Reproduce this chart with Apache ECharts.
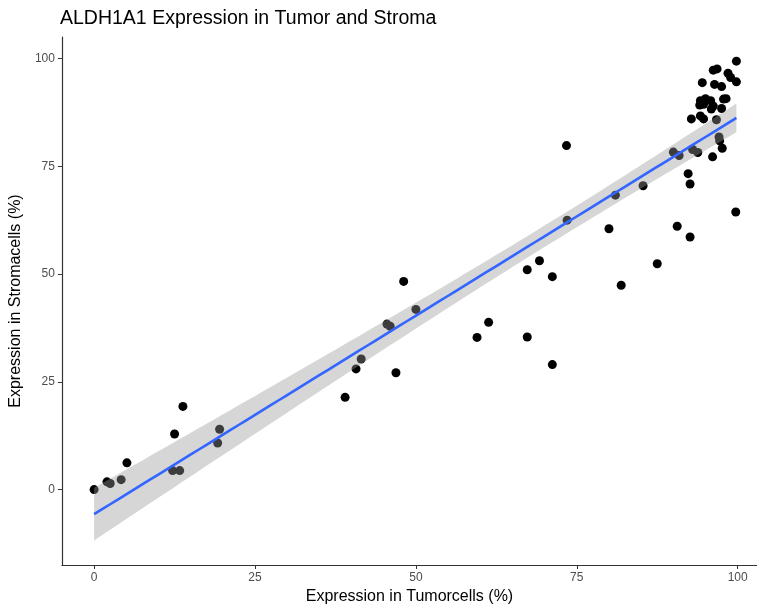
<!DOCTYPE html>
<html>
<head>
<meta charset="utf-8">
<script src="https://cdn.jsdelivr.net/npm/echarts@6/dist/echarts.min.js"></script>
<style>
html,body{margin:0;padding:0;background:#fff;}
#chart{width:757px;height:610px;}
</style>
</head>
<body>
<div id="chart"></div>
<script>
// Data
const tumor = [0,2,2.5,4.2,5.1,12.5,12.2,13.3,13.8,19.2,19.5,39,40.7,41.5,45.5,46,46.9,48.1,50,59.5,61.3,67.3,67.3,69.2,71.2,71.2,73.4,73.5,80,81,81.9,85.3,87.5,90,90.9,90.6,92.3,92.6,92.6,99.7,93.0,93.8,96.1,97.1,97.2,97.6,92.8,94.2,94.7,96.7,94.1,94.7,95.9,96.2,97.5,94.2,95.0,95.8,97.8,98.2,94.5,96.4,97.5,99.8,98.5,98.9,96.2,96.8,99.8];
const stroma = [0,1.8,1.4,2.3,6.2,12.9,4.4,4.4,19.3,10.8,14.0,21.4,28.0,30.3,38.4,37.9,27.1,48.3,41.8,35.3,38.8,51.0,35.4,53.1,49.4,29.0,79.8,62.5,60.5,68.3,47.4,70.5,52.4,78.3,77.5,61.1,73.3,70.9,58.6,64.4,78.9,78.2,77.2,81.8,80.9,79.2,86.0,86.7,86.0,85.8,89.2,89.4,88.3,89.0,88.4,90.2,90.7,90.2,90.6,90.7,94.4,94.0,93.5,94.6,96.6,95.6,97.3,97.6,99.4];
const tickValues = [0,25,50,75,100];
const titleText = 'ALDH1A1 Expression in Tumor and Stroma';
const xName = 'Expression in Tumorcells (%)';
const yName = 'Expression in Stromacells (%)';

// Linear fit with 95% confidence band (as geom_smooth(method = "lm"))
const n = tumor.length;
const mx = tumor.reduce((a,b)=>a+b,0)/n;
const my = stroma.reduce((a,b)=>a+b,0)/n;
let sxx=0, sxy=0;
for(let i=0;i<n;i++){ sxx += (tumor[i]-mx)**2; sxy += (tumor[i]-mx)*(stroma[i]-my); }
const slope = sxy/sxx, icpt = my - slope*mx;
let sse=0;
for(let i=0;i<n;i++){ const r = stroma[i]-(icpt+slope*tumor[i]); sse += r*r; }
const sRes = Math.sqrt(sse/(n-2));
const tCrit = 1.996;
const xMin = Math.min(...tumor), xMax = Math.max(...tumor);
const fitLine = [], bandUpper = [], bandLower = [];
for(let k=0;k<=80;k++){
  const x = xMin + (xMax-xMin)*k/80;
  const y = icpt + slope*x;
  const se = sRes*Math.sqrt(1/n + (x-mx)**2/sxx);
  fitLine.push([x,y]);
  bandUpper.push([x,y+tCrit*se]);
  bandLower.push([x,y-tCrit*se]);
}

const points = tumor.map((x,i)=>[x,stroma[i]]);
const FONT = '"Liberation Sans", Arial, sans-serif';

const chart = echarts.init(document.getElementById('chart'), null, {renderer:'canvas'});
chart.setOption({
  animation:false,
  backgroundColor:'#ffffff',
  title:{
    text:titleText, left:60, top:9, padding:0,
    textStyle:{fontFamily:FONT, fontSize:19.5, fontWeight:'normal', color:'#000'}
  },
  grid:{left:60, right:0, top:37, bottom:39, containLabel:false},
  xAxis:{
    type:'value', min:-5, max:103,
    name:xName, nameLocation:'middle', nameGap:24,
    nameTextStyle:{fontFamily:FONT, fontSize:16, color:'#000'},
    axisLine:{onZero:false, lineStyle:{color:'#333', width:1.2}},
    axisTick:{show:true, length:4, lineStyle:{color:'#333', width:1}, customValues:tickValues},
    axisLabel:{customValues:tickValues, margin:7, fontFamily:FONT, fontSize:12, color:'#4d4d4d'},
    splitLine:{show:false}
  },
  yAxis:{
    type:'value', min:-17.5, max:105,
    name:yName, nameLocation:'middle', nameGap:29,
    nameTextStyle:{fontFamily:FONT, fontSize:16, color:'#000'},
    axisLine:{show:true, onZero:false, lineStyle:{color:'#333', width:1.2}},
    axisTick:{show:true, length:4, lineStyle:{color:'#333', width:1}, customValues:tickValues},
    axisLabel:{customValues:tickValues, margin:7, fontFamily:FONT, fontSize:12, color:'#4d4d4d'},
    splitLine:{show:false}
  },
  series:[
    {
      type:'scatter', data:points, symbol:'circle', symbolSize:9,
      itemStyle:{color:'#000', opacity:1}, silent:true, z:1
    },
    {
      type:'custom', silent:true, z:2,
      data:[[0,0]],
      renderItem:function(params, api){
        const pts = [];
        for(const p of bandUpper) pts.push(api.coord(p));
        for(let i=bandLower.length-1;i>=0;i--) pts.push(api.coord(bandLower[i]));
        return {type:'polygon', shape:{points:pts}, style:{fill:'rgba(153,153,153,0.4)', stroke:null}};
      }
    },
    {
      type:'line', data:fitLine, showSymbol:false, smooth:false,
      lineStyle:{color:'#3366FF', width:2.6}, silent:true, z:3
    }
  ]
});
</script>
</body>
</html>
